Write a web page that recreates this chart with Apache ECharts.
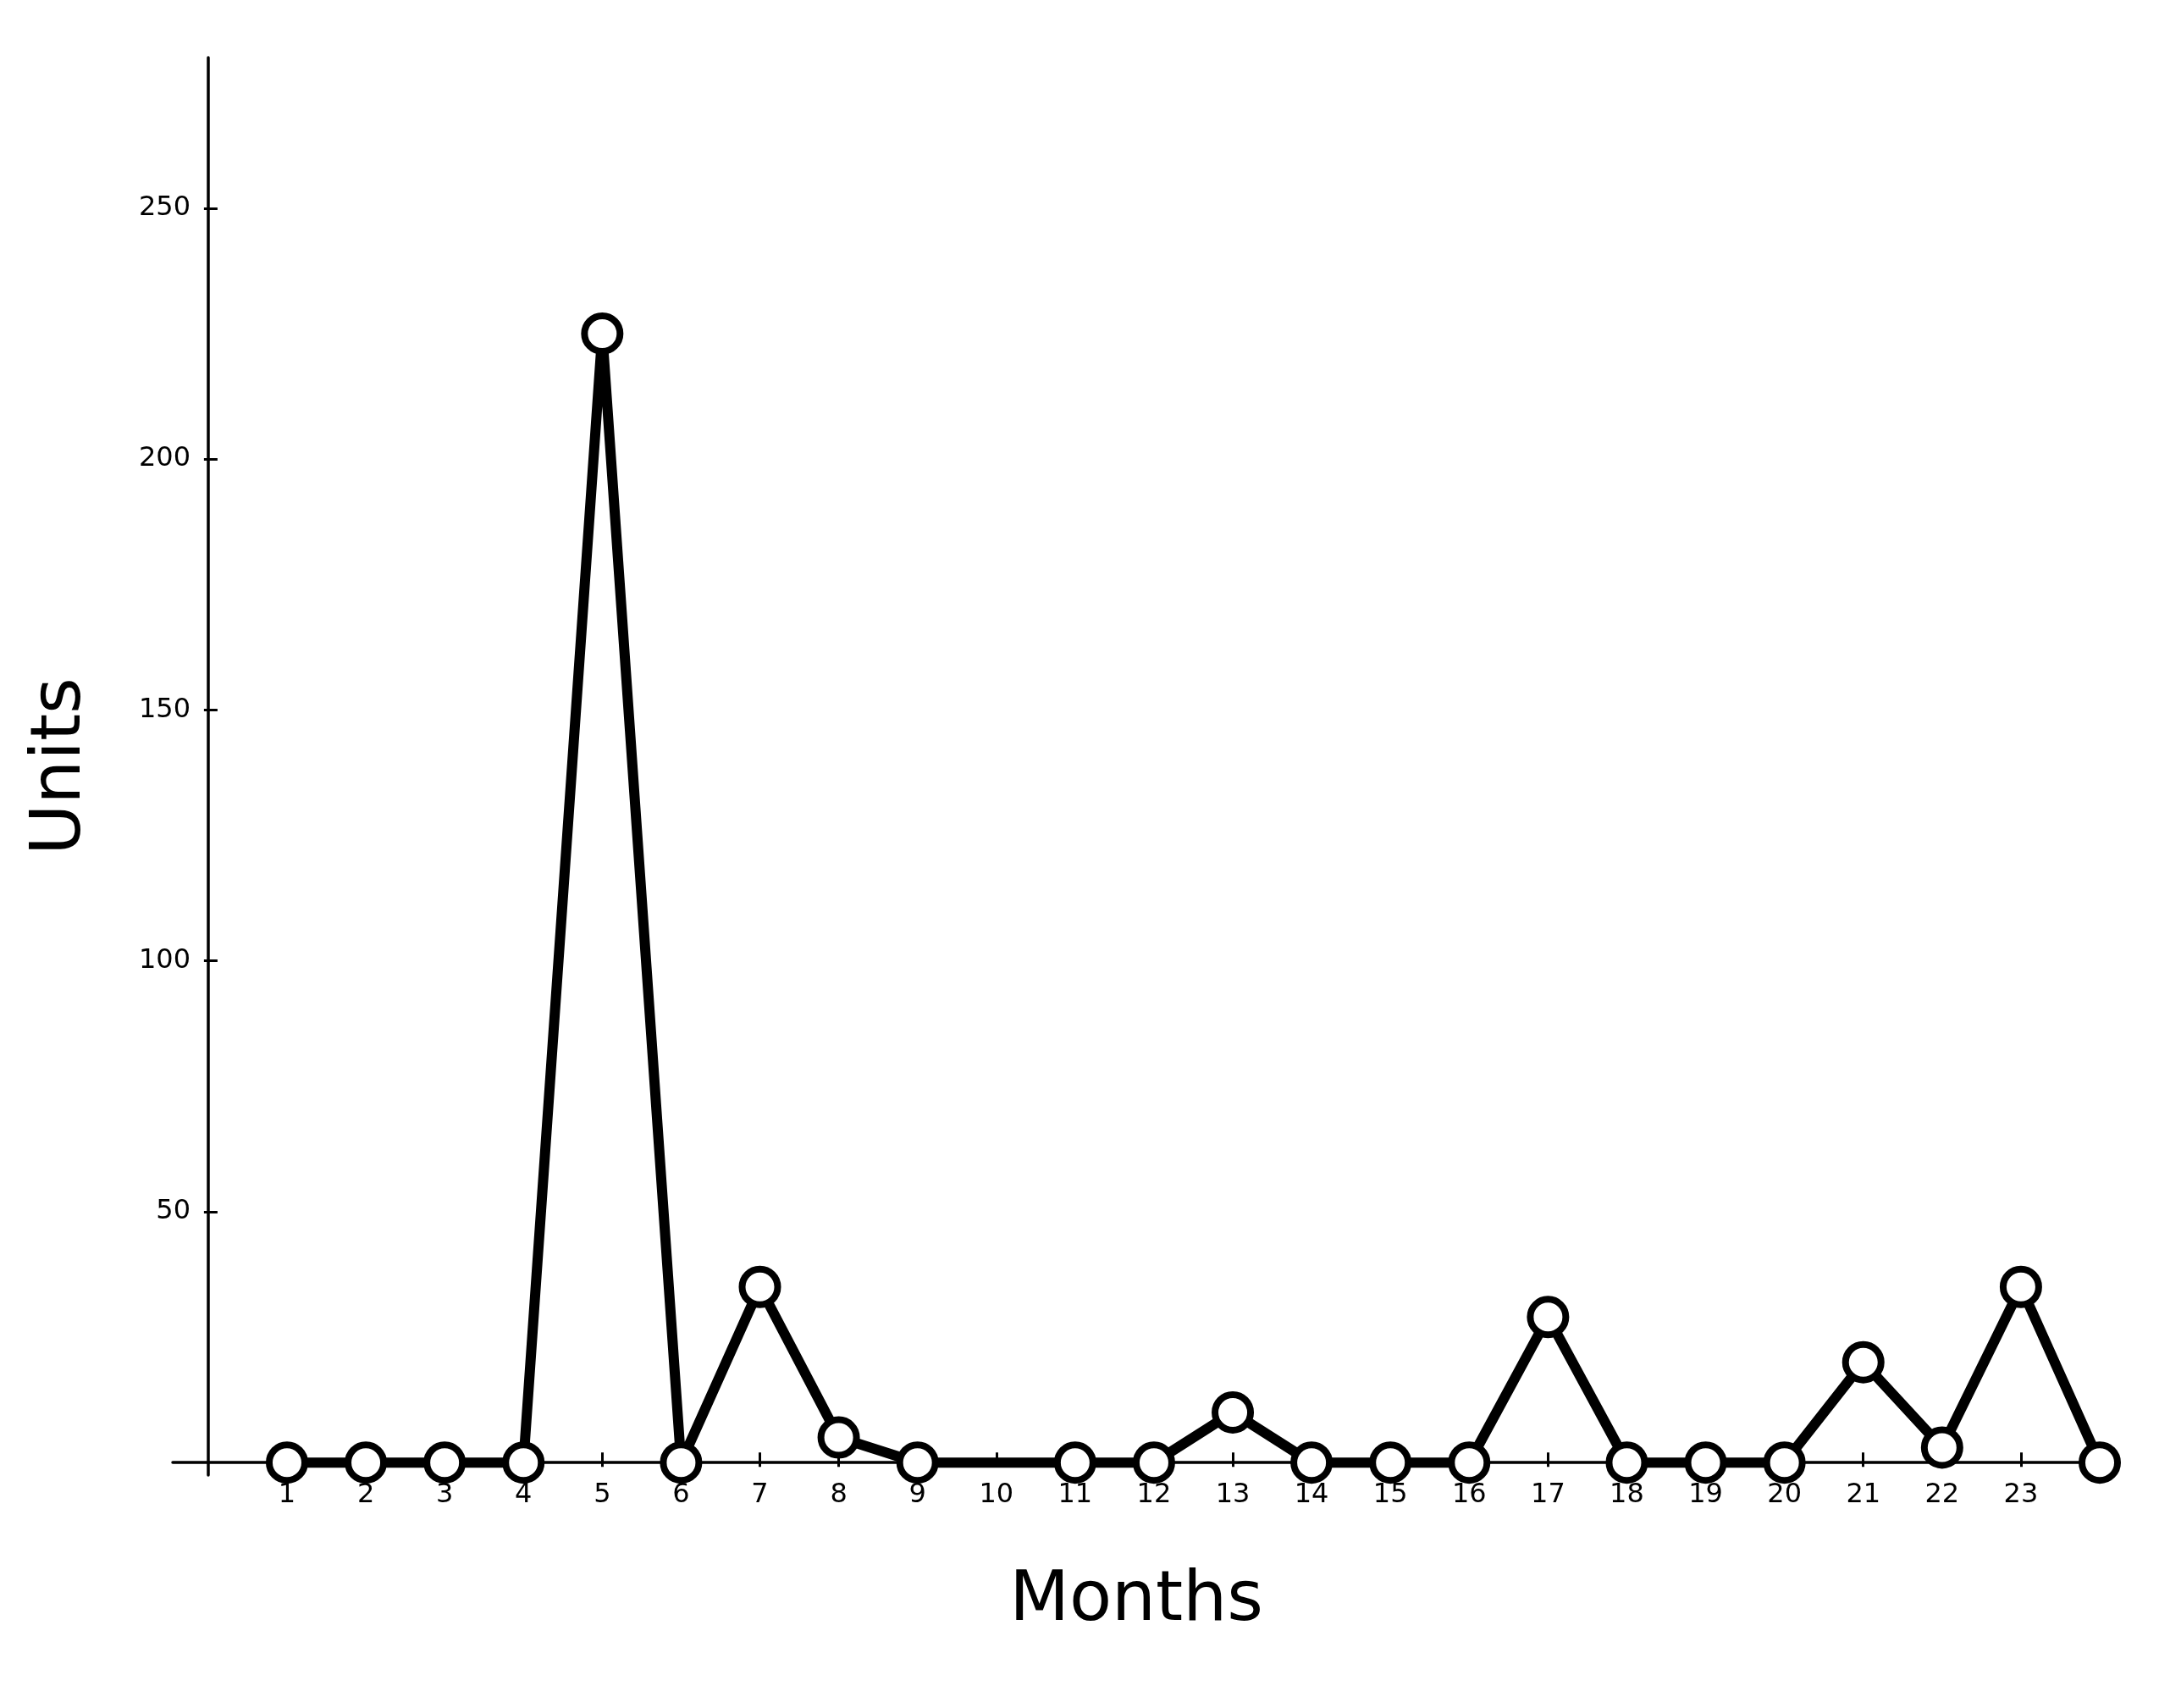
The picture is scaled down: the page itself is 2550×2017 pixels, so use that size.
<!DOCTYPE html>
<html>
<head>
<meta charset="utf-8">
<script src="https://cdn.jsdelivr.net/npm/echarts@6/dist/echarts.min.js"></script>
<style>
html,body{margin:0;padding:0;background:#fff;}
#chart{width:2550px;height:2017px;}
</style>
</head>
<body>
<div id="chart"></div>
<script>
const months = [1,2,3,4,5,6,7,8,9,10,11,12,13,14,15,16,17,18,19,20,21,22,23,24];
const units = [0,0,0,0,225,0,35,5,0,null,0,0,10,0,0,0,29,0,0,0,20,3,35,0];
const xTickValues = [1,2,3,4,5,6,7,8,9,10,11,12,13,14,15,16,17,18,19,20,21,22,23,24];
const xLabelValues = [1,2,3,4,5,6,7,8,9,10,11,12,13,14,15,16,17,18,19,20,21,22,23];
const yTickValues = [50,100,150,200,250];
const xTitle = 'Months';
const yTitle = 'Units';

const FONT = 'DejaVu Sans';
const chart = echarts.init(document.getElementById('chart'), null, {renderer:'canvas'});
const seriesData = months.map((m,i) => [m, units[i] === null ? '-' : units[i]]);

chart.setOption({
  animation:false,
  backgroundColor:'#fff',
  grid:{left:204, right:70, top:68, bottom:275, containLabel:false, outerBoundsMode:'none'},
  xAxis:[{
    type:'value', min:-0.45, max:24, position:'bottom',
    name:xTitle, nameLocation:'middle', nameGap:109,
    nameTextStyle:{fontFamily:FONT, fontSize:82, color:'#000'},
    axisLine:{show:true, onZero:true, onZeroAxisIndex:0, lineStyle:{color:'#000', width:3.5}},
    axisTick:{show:true, inside:true, length:12, customValues:xTickValues, lineStyle:{color:'#000', width:3}},
    axisLabel:{show:true, customValues:xLabelValues, margin:8, fontFamily:FONT, fontSize:32, color:'#000'},
    splitLine:{show:false}
  },{
    type:'value', min:-0.45, max:24, position:'bottom',
    axisLine:{show:false, onZero:true, onZeroAxisIndex:0},
    axisTick:{show:true, inside:false, length:5, customValues:xTickValues, lineStyle:{color:'#000', width:3}},
    axisLabel:{show:false},
    splitLine:{show:false}
  }],
  yAxis:[{
    type:'value', min:-2.5, max:280, position:'left',
    name:yTitle, nameLocation:'middle', nameGap:90,
    nameTextStyle:{fontFamily:FONT, fontSize:82, color:'#000'},
    axisLine:{show:true, onZero:true, onZeroAxisIndex:0, lineStyle:{color:'#000', width:3.5}},
    axisTick:{show:true, inside:true, length:11, customValues:yTickValues, lineStyle:{color:'#000', width:3}},
    axisLabel:{show:true, customValues:yTickValues, margin:-21, fontFamily:FONT, fontSize:32, color:'#000'},
    splitLine:{show:false}
  },{
    type:'value', min:-2.5, max:280, position:'left',
    axisLine:{show:false, onZero:true, onZeroAxisIndex:0},
    axisTick:{show:true, inside:false, length:5, customValues:yTickValues, lineStyle:{color:'#000', width:3}},
    axisLabel:{show:false},
    splitLine:{show:false}
  }],
  series:[{
    type:'line',
    xAxisIndex:0, yAxisIndex:0,
    data:seriesData,
    connectNulls:true,
    symbol:'circle',
    symbolSize:42,
    showAllSymbol:true,
    lineStyle:{color:'#000', width:12, join:'miter'},
    itemStyle:{color:'#fff', borderColor:'#000', borderWidth:8},
    emphasis:{disabled:true},
    z:5
  }]
});
</script>
</body>
</html>
